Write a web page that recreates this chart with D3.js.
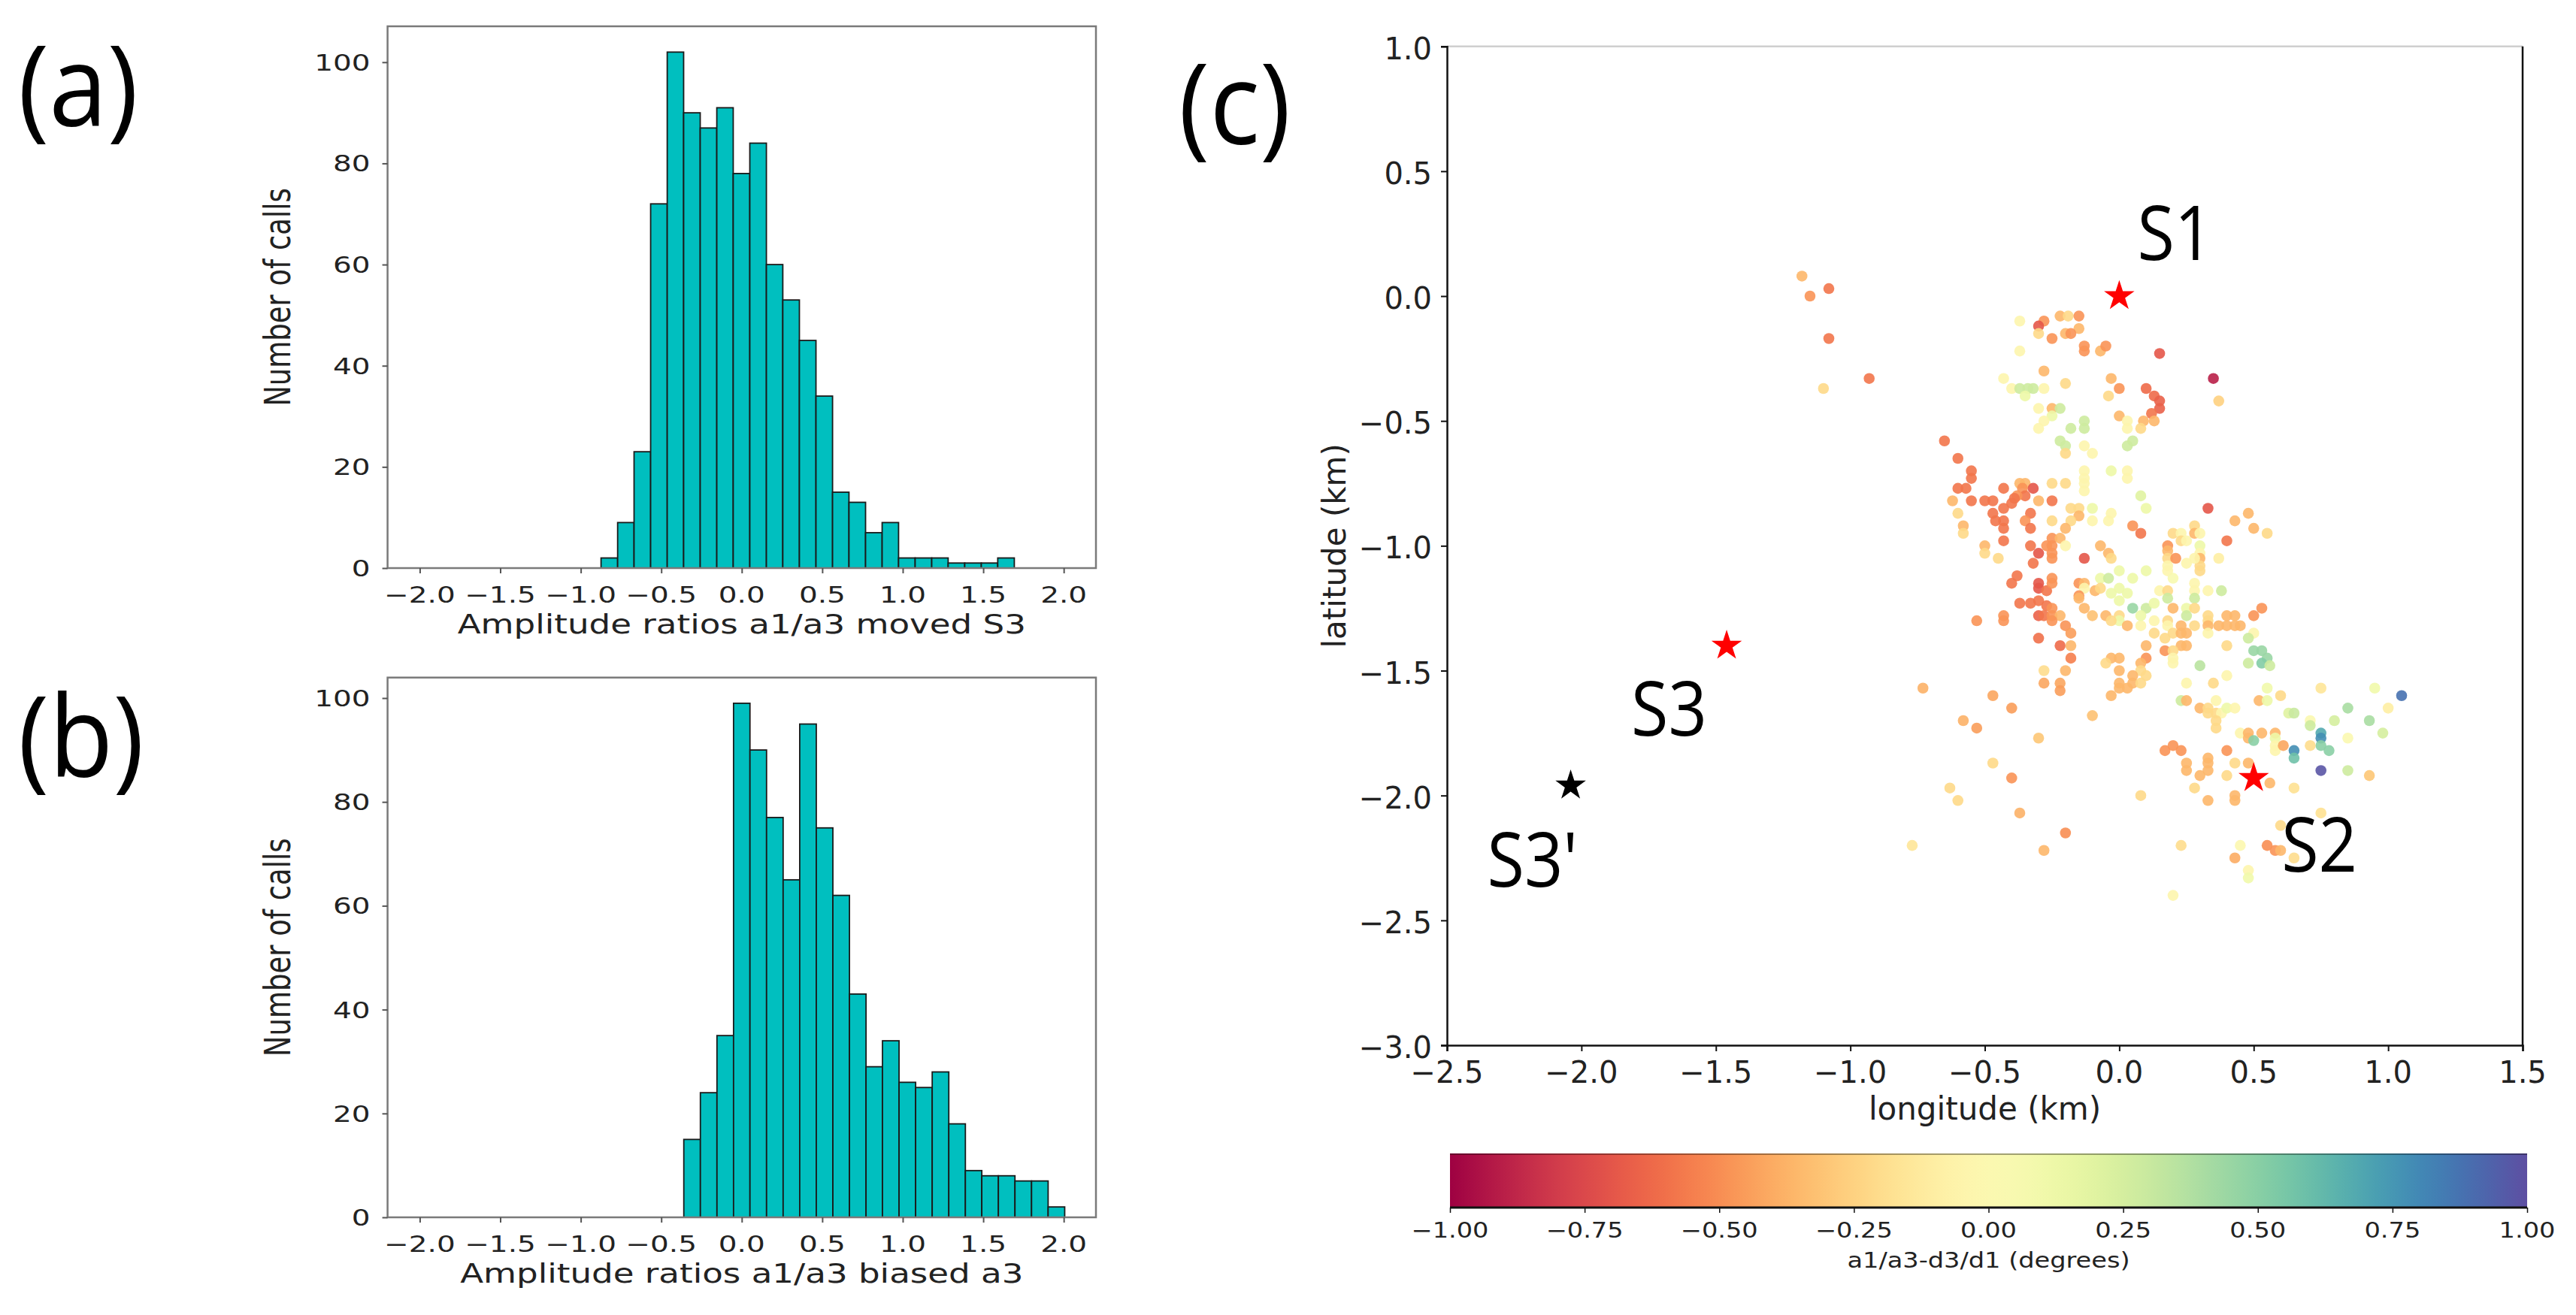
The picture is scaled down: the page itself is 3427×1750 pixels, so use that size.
<!DOCTYPE html>
<html><head><meta charset="utf-8">
<script src="https://cdn.jsdelivr.net/npm/d3@7"></script>
<style>body{margin:0;background:#fff}svg{display:block}</style>
</head><body>
<svg id="chart" width="3427" height="1750"></svg>
<script>
// ---------------- DATA ----------------
const histTicksX = [-2.0,-1.5,-1.0,-0.5,0.0,0.5,1.0,1.5,2.0];
const histTicksY = [0,20,40,60,80,100];
const edgesA = [-0.874,-0.771,-0.669,-0.566,-0.463,-0.361,-0.258,-0.155,-0.053,0.050,0.153,0.255,0.358,0.461,0.564,0.666,0.769,0.872,0.974,1.077,1.180,1.282,1.385,1.488,1.590,1.693];
const countsA = [2,9,23,72,102,90,87,91,78,84,60,53,45,34,15,13,7,9,2,2,2,1,1,1,2];
const edgesB = [-0.360,-0.257,-0.154,-0.051,0.051,0.154,0.257,0.360,0.463,0.566,0.669,0.772,0.874,0.977,1.080,1.183,1.286,1.389,1.491,1.594,1.697,1.800,1.903,2.006];
const countsB = [15,24,35,99,90,77,65,95,75,62,43,29,34,26,25,28,18,9,8,8,7,7,2];
const histXLabels = ["Amplitude ratios a1/a3 moved S3","Amplitude ratios a1/a3 biased a3"];
const histYLabel = "Number of calls";
const panelLabels = ["(a)","(b)","(c)"];

const lonTicks = [-2.5,-2.0,-1.5,-1.0,-0.5,0.0,0.5,1.0,1.5];
const latTicks = [1.0,0.5,0.0,-0.5,-1.0,-1.5,-2.0,-2.5,-3.0];
const cbarTicks = [-1.00,-0.75,-0.50,-0.25,0.00,0.25,0.50,0.75,1.00];
const stationNames = ["S1","S2","S3","S3'"];
const stationLon = [0.00,0.50,-1.46,-2.04];
const stationLat = [0.00,-1.93,-1.40,-1.96];
// events: [longitude km, latitude km, a1/a3-d3/d1]
const events = [
[-1.18,0.08,-0.36],[-1.15,0.00,-0.48],[-1.08,0.03,-0.58],[-1.08,-0.17,-0.58],[-0.93,-0.33,-0.58],[-1.10,-0.37,-0.22],
[-0.37,-0.10,-0.04],[-0.28,-0.10,-0.48],[-0.30,-0.12,-0.7],[-0.30,-0.15,-0.22],[-0.22,-0.08,-0.36],[-0.19,-0.08,-0.22],[-0.15,-0.08,-0.48],[-0.15,-0.13,-0.36],[-0.20,-0.15,-0.36],[-0.18,-0.15,-0.48],[-0.25,-0.17,-0.48],[-0.13,-0.20,-0.48],[-0.13,-0.22,-0.48],[-0.07,-0.22,-0.36],[-0.05,-0.20,-0.48],
[-0.37,-0.22,-0.04],[-0.28,-0.30,-0.36],[-0.20,-0.35,-0.22],[-0.43,-0.33,-0.04],[-0.40,-0.37,-0.04],[-0.37,-0.37,0.28],[-0.34,-0.37,0.28],[-0.32,-0.37,0.28],[-0.35,-0.40,0.13],[-0.28,-0.37,-0.04],[-0.04,-0.40,-0.22],
[-0.30,-0.45,-0.04],[-0.25,-0.45,-0.36],[-0.22,-0.45,0.28],[-0.25,-0.48,0.13],[-0.28,-0.50,-0.04],[-0.30,-0.53,-0.04],[-0.18,-0.53,0.28],[-0.13,-0.50,0.28],[-0.13,-0.53,0.28],[-0.22,-0.58,0.28],[-0.20,-0.60,0.28],[-0.20,-0.63,-0.22],[-0.13,-0.60,-0.04],[-0.10,-0.63,-0.04],
[-0.65,-0.58,-0.58],[-0.60,-0.65,-0.58],[-0.55,-0.70,-0.58],[-0.55,-0.73,-0.58],[-0.13,-0.70,-0.04],[-0.13,-0.73,-0.04],[-0.13,-0.75,-0.04],[-0.13,-0.78,-0.04],[-0.25,-0.75,-0.22],[-0.20,-0.75,-0.22],
[-0.60,-0.77,-0.58],[-0.57,-0.77,-0.58],[-0.43,-0.77,-0.58],[-0.37,-0.75,-0.36],[-0.35,-0.75,-0.36],[-0.36,-0.77,-0.48],[-0.32,-0.77,-0.7],[-0.35,-0.80,-0.58],[-0.38,-0.80,-0.48],[-0.39,-0.81,-0.58],[-0.40,-0.83,-0.58],
[-0.62,-0.82,-0.36],[-0.55,-0.82,-0.58],[-0.50,-0.82,-0.58],[-0.47,-0.82,-0.58],[-0.30,-0.82,-0.36],[-0.25,-0.82,-0.58],[-0.43,-0.85,-0.58],[-0.60,-0.87,-0.22],[-0.47,-0.87,-0.58],[-0.33,-0.87,-0.58],[-0.46,-0.90,-0.58],[-0.43,-0.90,-0.58],[-0.35,-0.90,-0.48],[-0.25,-0.90,-0.22],[-0.18,-0.85,-0.22],[-0.15,-0.85,-0.22],[-0.15,-0.88,-0.36],[-0.10,-0.85,0.13],[-0.10,-0.90,-0.04],[-0.18,-0.90,-0.22],[-0.20,-0.93,-0.36],
[-0.58,-0.92,-0.36],[-0.58,-0.95,-0.22],[-0.43,-0.93,-0.58],[-0.33,-0.93,-0.58],[-0.43,-0.98,-0.58],[-0.50,-1.00,-0.36],[-0.50,-1.03,-0.22],[-0.45,-1.05,-0.22],[-0.33,-1.00,-0.58],[-0.30,-1.03,-0.7],[-0.27,-1.00,-0.48],[-0.25,-0.97,-0.48],[-0.25,-1.00,-0.48],[-0.25,-1.03,-0.48],[-0.25,-1.05,-0.48],[-0.22,-0.97,-0.36],[-0.20,-1.00,-0.04],[-0.13,-1.05,-0.7],[-0.07,-1.00,-0.36],
[-0.32,-1.07,-0.58],[-0.38,-1.12,-0.58],[-0.40,-1.15,-0.58],[-0.30,-1.15,-0.7],[-0.30,-1.17,-0.7],[-0.27,-1.18,-0.58],[-0.25,-1.13,-0.48],[-0.25,-1.15,-0.48],[-0.15,-1.15,-0.48],[-0.13,-1.15,-0.36],[-0.13,-1.17,-0.04],[-0.07,-1.13,0.13],[-0.09,-1.18,-0.36],[-0.07,-1.17,-0.22],[-0.15,-1.20,-0.48],
[0.15,-0.23,-0.7],[0.35,-0.33,-0.9],[-0.03,-0.33,-0.36],[0.00,-0.37,-0.48],[0.10,-0.37,-0.62],[0.13,-0.40,-0.62],[0.15,-0.42,-0.66],[0.15,-0.45,-0.66],[0.12,-0.47,-0.58],[0.13,-0.50,-0.36],[0.09,-0.50,-0.36],[0.08,-0.53,-0.22],[0.00,-0.48,-0.36],[0.03,-0.50,-0.04],[0.03,-0.53,-0.04],[0.37,-0.42,-0.26],
[0.05,-0.58,0.28],[0.03,-0.60,0.28],[-0.03,-0.70,0.13],[0.03,-0.70,-0.04],[0.03,-0.73,-0.04],[0.08,-0.80,0.2],[0.10,-0.85,0.13],[0.33,-0.85,-0.7],[-0.03,-0.87,-0.04],[-0.04,-0.90,-0.04],[0.05,-0.92,-0.48],[0.08,-0.95,-0.58],
[0.48,-0.87,-0.36],[0.43,-0.90,-0.36],[0.50,-0.93,-0.36],[0.55,-0.95,-0.22],[0.40,-0.98,-0.58],[0.20,-0.95,-0.22],[0.23,-0.95,-0.04],[0.23,-0.98,-0.22],[0.25,-0.98,-0.04],[0.28,-0.92,-0.22],[0.28,-0.95,-0.36],[0.30,-0.95,-0.04],
[0.18,-1.00,-0.48],[0.18,-1.02,-0.36],[0.18,-1.05,-0.22],[0.21,-1.05,-0.48],[0.30,-1.00,0.13],[0.30,-1.03,-0.04],[0.30,-1.05,-0.36],[0.30,-1.08,-0.22],[0.30,-1.10,-0.22],[0.37,-1.05,-0.1],[0.28,-1.05,-0.04],[0.25,-1.07,-0.04],[0.18,-1.08,-0.04],[0.18,-1.10,-0.04],[0.20,-1.13,0.05],
[-0.04,-1.03,-0.36],[-0.03,-1.05,-0.22],[0.00,-1.10,0.13],[-0.04,-1.13,0.28],[0.05,-1.13,0.13],[0.10,-1.10,0.13],[0.00,-1.17,0.13],[-0.03,-1.19,0.13],[0.03,-1.19,0.13],[0.15,-1.18,-0.04],[0.18,-1.18,-0.22],[0.28,-1.15,-0.04],[0.28,-1.18,-0.04],[0.33,-1.18,-0.04],[0.38,-1.18,0.28],
[0.00,-1.22,0.13],[0.05,-1.25,0.45],[0.10,-1.25,0.28],[0.13,-1.23,0.13],[0.18,-1.21,0.28],[0.28,-1.21,0.28],[0.20,-1.25,-0.36],[0.25,-1.25,0.13],[0.28,-1.25,-0.22],[0.25,-1.28,0.28],[-0.05,-1.28,-0.36],[0.00,-1.28,-0.22],[0.00,-1.30,0.13],[-0.03,-1.30,-0.22],[0.03,-1.32,-0.36],[0.08,-1.32,-0.04],[0.08,-1.28,0.13],[0.13,-1.30,-0.04],[0.13,-1.35,-0.22],[0.18,-1.30,-0.22],[0.18,-1.32,-0.04],[0.23,-1.32,-0.36],[0.28,-1.32,-0.22],[0.20,-1.35,-0.22],[0.23,-1.35,-0.36],[0.25,-1.35,-0.36],
[0.33,-1.28,-0.22],[0.33,-1.30,-0.22],[0.33,-1.32,-0.36],[0.33,-1.35,-0.04],[0.40,-1.28,-0.36],[0.43,-1.28,-0.36],[0.37,-1.32,-0.36],[0.40,-1.32,-0.36],[0.43,-1.32,-0.36],[0.45,-1.32,-0.36],[0.50,-1.28,-0.48],[0.53,-1.25,-0.48],[0.50,-1.35,-0.04],[0.48,-1.37,0.28],[0.40,-1.40,-0.22],
[0.10,-1.40,-0.36],[0.17,-1.37,-0.22],[0.17,-1.42,-0.48],[0.23,-1.40,-0.36],[0.25,-1.40,-0.36],[0.20,-1.42,-0.22],[0.20,-1.45,-0.04],[0.20,-1.47,-0.04],[-0.03,-1.45,-0.36],[0.00,-1.45,-0.36],[0.10,-1.45,-0.48],[0.08,-1.47,-0.36],[-0.05,-1.47,-0.22],[0.00,-1.50,-0.36],[0.08,-1.50,-0.22],[0.10,-1.52,-0.22],[0.05,-1.52,-0.36],[0.05,-1.55,-0.36],[0.08,-1.55,-0.22],[0.00,-1.55,-0.36],[0.03,-1.57,-0.36],[0.00,-1.57,-0.36],[-0.03,-1.60,-0.36],
[0.30,-1.48,0.35],[0.40,-1.52,-0.04],[0.25,-1.55,-0.04],[0.35,-1.55,-0.22],[0.50,-1.42,0.45],[0.53,-1.42,0.45],[0.55,-1.45,0.45],[0.53,-1.47,0.52],[0.48,-1.47,0.28],[0.56,-1.48,0.28],[0.55,-1.57,0.1],[0.60,-1.60,-0.22],[0.52,-1.62,-0.36],[0.55,-1.62,0.13],
[0.23,-1.62,0.28],[0.25,-1.62,-0.36],[0.30,-1.65,-0.36],[0.33,-1.65,-0.22],[0.36,-1.62,-0.04],[0.36,-1.67,-0.22],[0.33,-1.67,-0.22],[0.38,-1.67,-0.04],[0.40,-1.65,0.13],[0.43,-1.65,-0.04],[0.36,-1.70,-0.22],[0.36,-1.73,-0.22],
[0.75,-1.57,-0.15],[0.95,-1.57,0.1],[1.05,-1.60,0.88],[0.85,-1.65,0.4],[1.00,-1.65,-0.1],[0.63,-1.67,0.2],[0.65,-1.67,0.3],[0.71,-1.70,0.0],[0.71,-1.72,0.28],[0.80,-1.70,0.25],[0.93,-1.70,0.4],[0.98,-1.75,0.25],[0.85,-1.77,0.0],[0.75,-1.75,0.68],[0.75,-1.77,0.78],[0.75,-1.80,0.5],[0.78,-1.82,0.5],[0.71,-1.80,-0.2],[0.65,-1.82,0.78],[0.65,-1.85,0.58],[0.75,-1.90,0.98],[0.85,-1.90,0.28],[0.93,-1.92,-0.3],
[0.45,-1.75,-0.04],[0.48,-1.75,-0.36],[0.53,-1.75,-0.36],[0.58,-1.75,-0.36],[0.48,-1.77,-0.36],[0.50,-1.78,0.5],[0.58,-1.77,0.13],[0.58,-1.80,-0.04],[0.58,-1.82,-0.04],[0.61,-1.80,-0.42],
[0.17,-1.82,-0.48],[0.20,-1.80,-0.48],[0.23,-1.82,-0.48],[0.40,-1.82,-0.48],[0.33,-1.85,-0.36],[0.33,-1.87,-0.36],[0.33,-1.90,-0.36],[0.25,-1.87,-0.36],[0.25,-1.90,-0.36],[0.43,-1.87,-0.22],[0.48,-1.87,-0.36],[0.30,-1.92,-0.36],[0.40,-1.92,-0.22],[0.56,-1.95,-0.36],[0.28,-1.97,-0.22],[0.08,-2.00,-0.22],[0.33,-2.02,-0.36],[0.43,-2.00,-0.36],[0.43,-2.02,-0.36],[0.65,-1.97,-0.18],[0.75,-2.07,-0.18],[0.60,-2.12,-0.22],[0.55,-2.20,-0.5],[0.58,-2.22,-0.48],[0.60,-2.22,-0.36],[0.65,-2.25,-0.2],[0.45,-2.20,-0.02],[0.43,-2.25,-0.4],[0.48,-2.30,-0.04],[0.48,-2.33,0.1],[0.23,-2.20,-0.2],[0.20,-2.40,-0.04],
[-0.37,-1.23,-0.58],[-0.33,-1.23,-0.58],[-0.30,-1.22,-0.58],[-0.27,-1.24,-0.58],[-0.25,-1.25,-0.48],[-0.30,-1.28,-0.65],[-0.28,-1.28,-0.58],[-0.25,-1.28,-0.48],[-0.22,-1.28,-0.36],[-0.25,-1.30,-0.48],[-0.43,-1.28,-0.48],[-0.43,-1.30,-0.48],[-0.53,-1.30,-0.48],[-0.20,-1.32,-0.48],[-0.18,-1.35,-0.45],[-0.30,-1.37,-0.6],[-0.22,-1.40,-0.62],[-0.18,-1.40,-0.36],[-0.18,-1.45,-0.55],[-0.28,-1.50,-0.2],[-0.20,-1.50,-0.36],[-0.28,-1.55,-0.42],[-0.22,-1.55,-0.42],[-0.22,-1.58,-0.45],[-0.73,-1.57,-0.38],[-0.47,-1.60,-0.42],[-0.40,-1.65,-0.45],[-0.58,-1.70,-0.38],[-0.53,-1.73,-0.45],[-0.30,-1.77,-0.3],[-0.10,-1.68,-0.32],[-0.15,-1.21,-0.36],[-0.13,-1.25,-0.36],[-0.10,-1.28,-0.32],
[-0.47,-1.87,-0.22],[-0.40,-1.93,-0.48],[-0.63,-1.97,-0.22],[-0.60,-2.02,-0.22],[-0.37,-2.07,-0.38],[-0.20,-2.15,-0.5],[-0.28,-2.22,-0.36],[-0.77,-2.20,-0.15]
];

// ---------------- DRAWING ----------------
const svg = d3.select("#chart");
const DV = "'DejaVu Sans', sans-serif";
const OS = "'Open Sans', sans-serif";
const minus = v => String(v).replace("-", "\u2212");

function txt(g, x, y, s, o) {
  return g.append("text")
    .attr("transform", `translate(${x},${y}) scale(${o.sx || 1},1)` + (o.rot ? ` rotate(${o.rot})` : ""))
    .attr("font-family", o.family || DV)
    .attr("font-size", o.size)
    .attr("text-anchor", o.anchor || "start")
    .attr("fill", o.fill || "#000")
    .text(s);
}

function histogram(edges, counts, box, xlabel) {
  const g = svg.append("g");
  const x = d3.scaleLinear().domain([-2.2, 2.2]).range([box.l, box.r]);
  const y = d3.scaleLinear().domain([0, d3.max(counts) * 1.05]).range([box.b, box.t]);
  g.selectAll("rect.bar").data(counts).join("rect").attr("class", "bar")
    .attr("x", (d, i) => x(edges[i]))
    .attr("width", (d, i) => x(edges[i + 1]) - x(edges[i]))
    .attr("y", d => y(d))
    .attr("height", d => y(0) - y(d))
    .attr("fill", "#00bfbf").attr("stroke", "#1a1a1a").attr("stroke-width", 1.8);
  g.append("rect").attr("x", box.l).attr("y", box.t)
    .attr("width", box.r - box.l).attr("height", box.b - box.t)
    .attr("fill", "none").attr("stroke", "#7a7a7a").attr("stroke-width", 2.5);
  const ax = g.append("g").attr("transform", `translate(0,${box.b})`)
    .call(d3.axisBottom(x).tickValues(histTicksX).tickSize(7).tickFormat(""));
  ax.select(".domain").remove();
  ax.selectAll("line").attr("stroke", "#555").attr("stroke-width", 2);
  const ay = g.append("g").attr("transform", `translate(${box.l},0)`)
    .call(d3.axisLeft(y).tickValues(histTicksY).tickSize(7).tickFormat(""));
  ay.select(".domain").remove();
  ay.selectAll("line").attr("stroke", "#555").attr("stroke-width", 2);
  histTicksX.forEach(v => txt(g, x(v), box.b + 46, minus(v.toFixed(1)), {size: 30, sx: 1.3, anchor: "middle", fill: "#222"}));
  histTicksY.forEach(v => txt(g, box.l - 23, y(v) + 11, String(v), {size: 30, sx: 1.3, anchor: "end", fill: "#222"}));
  txt(g, (box.l + box.r) / 2, box.b + 87, xlabel, {size: 35, sx: 1.29, anchor: "middle", fill: "#222"});
  txt(g, 386, (box.t + box.b) / 2, histYLabel, {size: 37, sx: 1.3, rot: -90, anchor: "middle", fill: "#222"});
}

histogram(edgesA, countsA, {l: 515.6, r: 1458, t: 35, b: 756}, histXLabels[0]);
histogram(edgesB, countsB, {l: 515.6, r: 1458, t: 901.7, b: 1620}, histXLabels[1]);

// panel labels
txt(svg, 24, 168, panelLabels[0], {size: 150, family: OS, sx: 0.93});
txt(svg, 24, 1034, panelLabels[1], {size: 150, family: OS, sx: 0.93});
txt(svg, 1568, 192, panelLabels[2], {size: 150, family: OS, sx: 0.93});

// ---------- scatter (c) ----------
const box = {l: 1925, r: 3356, t: 61.7, b: 1391};
const xs = d3.scaleLinear().domain([-2.5, 1.5]).range([box.l, box.r]);
const ys = d3.scaleLinear().domain([-3, 1]).range([box.b, box.t]);
const color = v => d3.interpolateSpectral((v + 1) / 2);
const gc = svg.append("g");

gc.selectAll("circle.ev").data(events).join("circle").attr("class", "ev")
  .attr("cx", d => xs(d[0])).attr("cy", d => ys(d[1])).attr("r", 7.3)
  .attr("fill", d => color(d[2])).attr("fill-opacity", 0.9);

// spines
gc.append("line").attr("x1", box.l).attr("x2", box.r).attr("y1", box.t).attr("y2", box.t).attr("stroke", "#cfcfcf").attr("stroke-width", 2.5);
gc.append("line").attr("x1", box.r).attr("x2", box.r).attr("y1", box.t).attr("y2", box.b).attr("stroke", "#111").attr("stroke-width", 2.5);
const axc = gc.append("g").attr("transform", `translate(0,${box.b})`)
  .call(d3.axisBottom(xs).tickValues(lonTicks).tickSize(8).tickFormat(""));
axc.select(".domain").attr("stroke", "#111").attr("stroke-width", 2.5);
axc.selectAll("line").attr("stroke", "#111").attr("stroke-width", 2);
const ayc = gc.append("g").attr("transform", `translate(${box.l},0)`)
  .call(d3.axisLeft(ys).tickValues(latTicks).tickSize(8).tickFormat(""));
ayc.select(".domain").attr("stroke", "#111").attr("stroke-width", 2.5);
ayc.selectAll("line").attr("stroke", "#111").attr("stroke-width", 2);
lonTicks.forEach(v => txt(gc, xs(v), box.b + 50, minus(v.toFixed(1)), {size: 40, anchor: "middle", fill: "#222"}));
latTicks.forEach(v => txt(gc, box.l - 20, ys(v) + 17, minus(v.toFixed(1)), {size: 40, anchor: "end", fill: "#222"}));
txt(gc, (box.l + box.r) / 2, box.b + 99, "longitude (km)", {size: 42, anchor: "middle", fill: "#222"});
txt(gc, 1790, (box.t + box.b) / 2, "latitude (km)", {size: 42, rot: -90, anchor: "middle", fill: "#222"});

// stations
const star = d3.symbol().type(d3.symbolStar).size(510);
const stationColor = ["#ff0000", "#ff0000", "#ff0000", "#000000"];
const labelOffset = [[24, -48], [37, 125], [-127, 120], [-111, 135]];
stationNames.forEach((name, i) => {
  const px = xs(stationLon[i]), py = ys(stationLat[i]);
  gc.append("path").attr("d", star).attr("transform", `translate(${px},${py})`).attr("fill", stationColor[i]);
  txt(gc, px + labelOffset[i][0], py + labelOffset[i][1], name, {size: 100, family: OS, sx: 0.9});
});

// ---------- colorbar ----------
const cb = {l: 1929, r: 3362, t: 1535, b: 1607};
const xc = d3.scaleLinear().domain([-1, 1]).range([cb.l, cb.r]);
const defs = svg.append("defs");
const grad = defs.append("linearGradient").attr("id", "spec").attr("x1", "0%").attr("x2", "100%");
d3.range(0, 1.0001, 0.02).forEach(t => grad.append("stop").attr("offset", (t * 100) + "%").attr("stop-color", d3.interpolateSpectral(t)));
svg.append("rect").attr("x", cb.l).attr("y", cb.t).attr("width", cb.r - cb.l).attr("height", cb.b - cb.t).attr("fill", "url(#spec)");
svg.append("line").attr("x1", cb.l).attr("x2", cb.r).attr("y1", cb.t + 1).attr("y2", cb.t + 1).attr("stroke", "#000").attr("stroke-opacity", 0.35).attr("stroke-width", 2);
svg.append("line").attr("x1", cb.l).attr("x2", cb.r).attr("y1", cb.b).attr("y2", cb.b).attr("stroke", "#111").attr("stroke-width", 3);
const cbAx = svg.append("g").attr("transform", `translate(0,${cb.b})`)
  .call(d3.axisBottom(xc).tickValues(cbarTicks).tickSize(7).tickFormat(""));
cbAx.select(".domain").remove();
cbAx.selectAll("line").attr("stroke", "#111").attr("stroke-width", 1.5);
cbarTicks.forEach(v => txt(svg, xc(v), 1647, minus(v.toFixed(2)), {size: 28, sx: 1.2, anchor: "middle", fill: "#222"}));
txt(svg, (cb.l + cb.r) / 2, 1687, "a1/a3-d3/d1 (degrees)", {size: 28, sx: 1.2, anchor: "middle", fill: "#222"});
</script>
</body></html>
